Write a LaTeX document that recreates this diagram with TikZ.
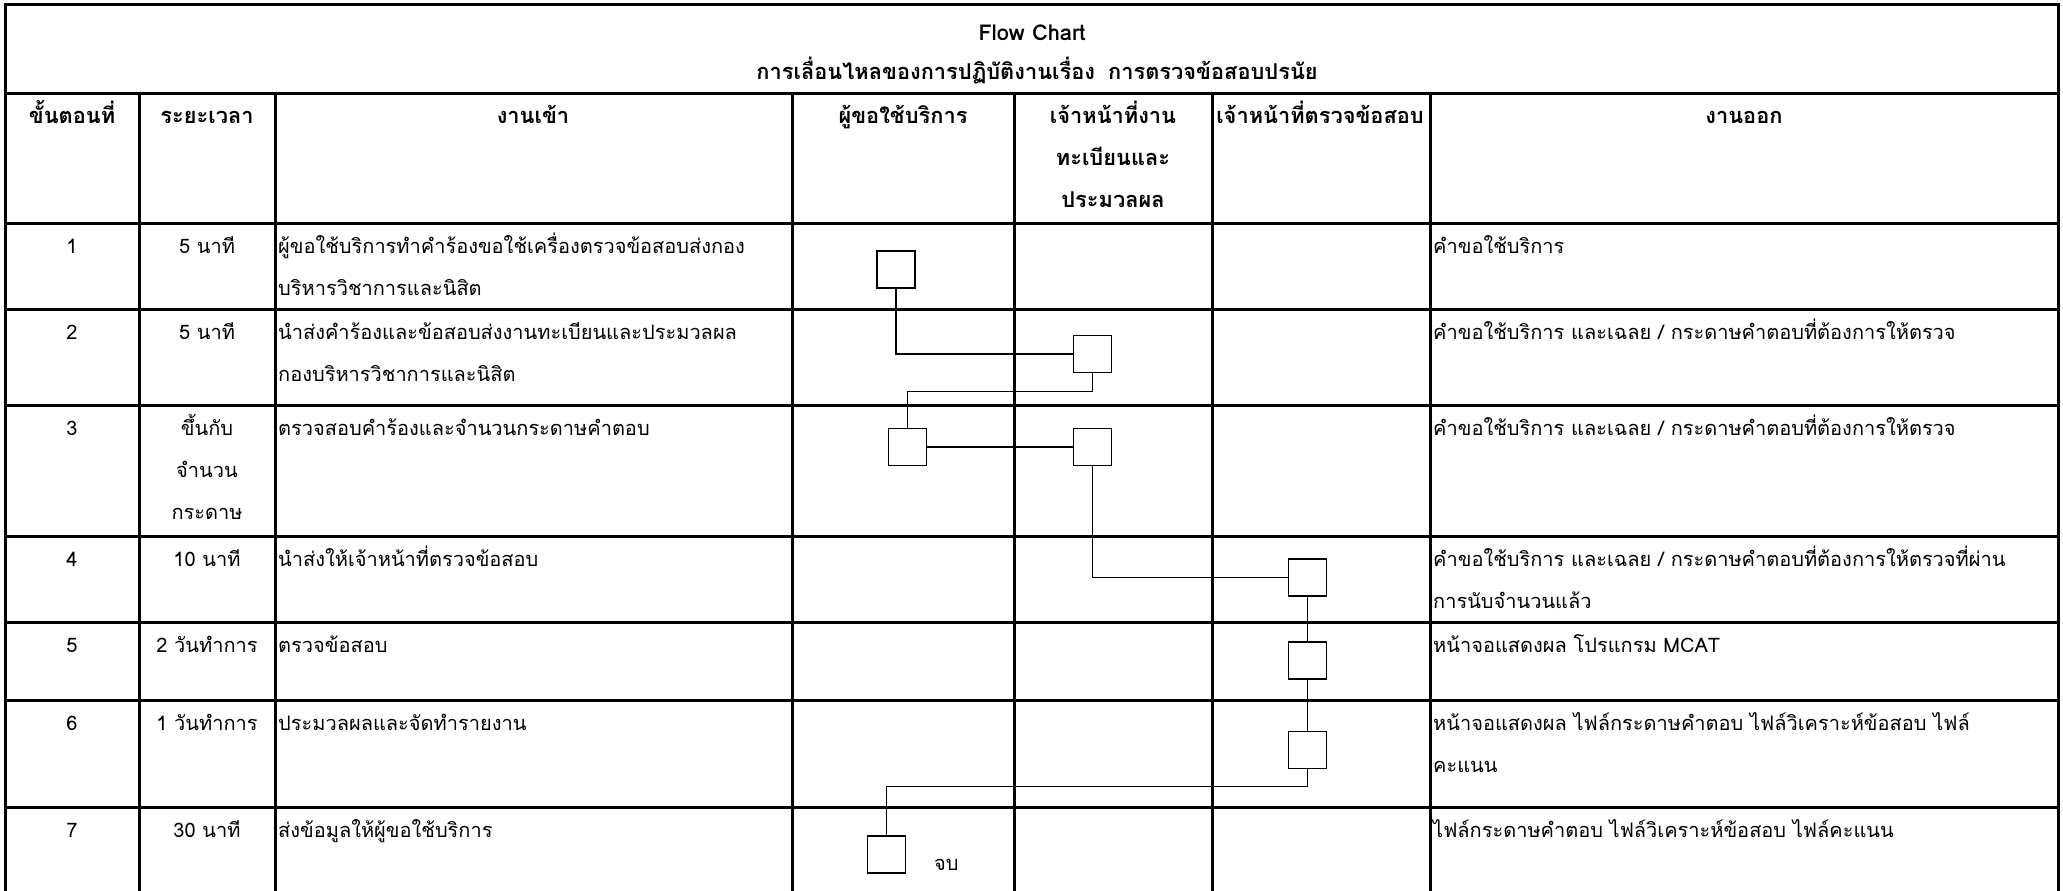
\documentclass[tikz,border=0pt]{standalone}
\usepackage{fontspec}
\setmainfont[Script=Thai]{Loma}
\begin{document}
\begin{tikzpicture}[x=1pt,y=-1pt,
  tbl/.style={line width=3pt},
  conn/.style={line width=1.3pt},
  box/.style={draw,line width=1.4pt,minimum width=38pt,minimum height=37pt,inner sep=0pt},
  txt/.style={anchor=base west,inner sep=0pt,font=\fontsize{20}{25}\selectfont},
  ctr/.style={anchor=base,inner sep=0pt,font=\fontsize{20}{25}\selectfont},
  hdr/.style={anchor=base,inner sep=0pt,font=\fontsize{21.8}{26}\selectfont\bfseries}]
\useasboundingbox (0,0) rectangle (2063,891);
\fill[white] (0,0) rectangle (2063,891);
% table
\draw[tbl] (5,891) -- (5,5) -- (2058,5) -- (2058,891);
\draw[tbl] (5,93) -- (2058,93);
\foreach \yy in {223,309,405,536,622,700,807} {\draw[tbl] (5,\yy) -- (2058,\yy);}
\foreach \xx in {139,275,792,1014,1212,1430} {\draw[tbl] (\xx,93) -- (\xx,891);}
% title
\node[hdr] (t1) at (1032,41) {Flow Chart};
\node[hdr] (t2) at (1037,80) {การเลื่อนไหลของการปฏิบัติงานเรื่อง\hspace{0.6em}การตรวจข้อสอบปรนัย};
% headers
\node[hdr] (h1) at (72,123) {ขั้นตอนที่};
\node[hdr] (h2) at (207,123) {ระยะเวลา};
\node[hdr] (h3) at (533,123) {งานเข้า};
\node[hdr] (h4) at (903,123) {ผู้ขอใช้บริการ};
\node[hdr] (h5a) at (1113,123) {เจ้าหน้าที่งาน};
\node[hdr] (h5b) at (1113,165) {ทะเบียนและ};
\node[hdr] (h5c) at (1113,207) {ประมวลผล};
\node[hdr] (h6) at (1320,123) {เจ้าหน้าที่ตรวจข้อสอบ};
\node[hdr] (h7) at (1744,123) {งานออก};
% row 1
\node[ctr] (n1) at (72,253) {1};
\node[ctr] (d1) at (207,253) {5 นาที};
\node[txt] (i1a) at (278,253) {ผู้ขอใช้บริการทำคำร้องขอใช้เครื่องตรวจข้อสอบส่งกอง};
\node[txt] (i1b) at (278,295) {บริหารวิชาการและนิสิต};
\node[txt] (o1) at (1433,253) {คำขอใช้บริการ};
% row 2
\node[ctr] (n2) at (72,339) {2};
\node[ctr] (d2) at (207,339) {5 นาที};
\node[txt] (i2a) at (278,339) {นำส่งคำร้องและข้อสอบส่งงานทะเบียนและประมวลผล};
\node[txt] (i2b) at (278,381) {กองบริหารวิชาการและนิสิต};
\node[txt] (o2) at (1433,339) {คำขอใช้บริการ และเฉลย / กระดาษคำตอบที่ต้องการให้ตรวจ};
% row 3
\node[ctr] (n3) at (72,435) {3};
\node[ctr] (d3a) at (207,435) {ขึ้นกับ};
\node[ctr] (d3b) at (207,477) {จำนวน};
\node[ctr] (d3c) at (207,519) {กระดาษ};
\node[txt] (i3) at (278,435) {ตรวจสอบคำร้องและจำนวนกระดาษคำตอบ};
\node[txt] (o3) at (1433,435) {คำขอใช้บริการ และเฉลย / กระดาษคำตอบที่ต้องการให้ตรวจ};
% row 4
\node[ctr] (n4) at (72,566) {4};
\node[ctr] (d4) at (207,566) {10 นาที};
\node[txt] (i4) at (278,566) {นำส่งให้เจ้าหน้าที่ตรวจข้อสอบ};
\node[txt] (o4a) at (1433,566) {คำขอใช้บริการ และเฉลย / กระดาษคำตอบที่ต้องการให้ตรวจที่ผ่าน};
\node[txt] (o4b) at (1433,608) {การนับจำนวนแล้ว};
% row 5
\node[ctr] (n5) at (72,652) {5};
\node[ctr] (d5) at (207,652) {2 วันทำการ};
\node[txt] (i5) at (278,652) {ตรวจข้อสอบ};
\node[txt] (o5) at (1433,652) {หน้าจอแสดงผล โปรแกรม MCAT};
% row 6
\node[ctr] (n6) at (72,730) {6};
\node[ctr] (d6) at (207,730) {1 วันทำการ};
\node[txt] (i6) at (278,730) {ประมวลผลและจัดทำรายงาน};
\node[txt] (o6a) at (1433,730) {หน้าจอแสดงผล ไฟล์กระดาษคำตอบ ไฟล์วิเคราะห์ข้อสอบ ไฟล์};
\node[txt] (o6b) at (1433,772) {คะแนน};
% row 7
\node[ctr] (n7) at (72,837) {7};
\node[ctr] (d7) at (207,837) {30 นาที};
\node[txt] (i7) at (278,837) {ส่งข้อมูลให้ผู้ขอใช้บริการ};
\node[txt] (o7) at (1433,837) {ไฟล์กระดาษคำตอบ ไฟล์วิเคราะห์ข้อสอบ ไฟล์คะแนน};
% flow boxes
\node[box] (b1) at (896,269.5) {};
\node[box] (b2) at (1092.5,354) {};
\node[box] (b3a) at (907.5,447) {};
\node[box] (b3b) at (1092.5,447) {};
\node[box] (b4) at (1307.5,577.5) {};
\node[box] (b5) at (1307.5,660.5) {};
\node[box] (b6) at (1307.5,750) {};
\node[box] (b7) at (886.5,854.5) {};
\node[txt] (end) at (934,870) {จบ};
% connectors
\draw[conn] (b1.south) |- (b2.west);
\draw[conn] (b2.south) -- ++(0,18) -| (b3a.north);
\draw[conn] (b3a.east) -- (b3b.west);
\draw[conn] (b3b.south) |- (b4.west);
\draw[conn] (b4.south) -- (b5.north);
\draw[conn] (b5.south) -- (b6.north);
\draw[conn] (b6.south) -- ++(0,17) -| (b7.north);
\end{tikzpicture}
\end{document}
